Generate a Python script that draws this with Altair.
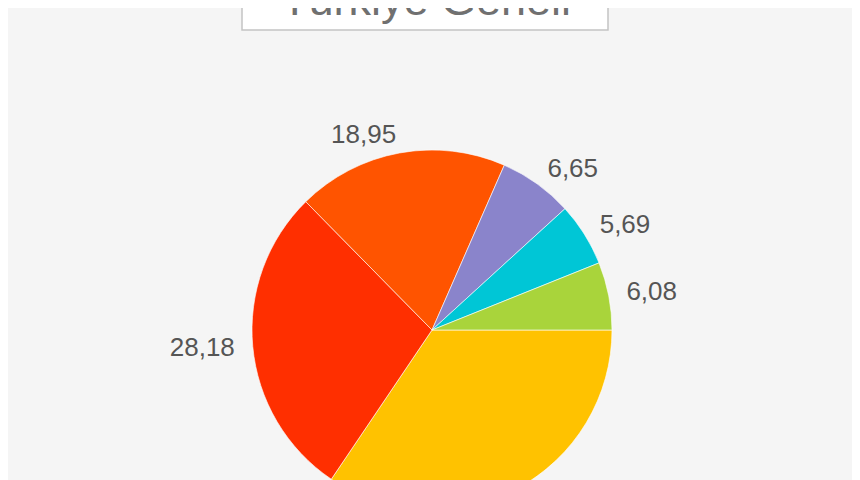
import math
import altair as alt
import pandas as pd

# --- data ---
categories = ["Dilim 1", "Dilim 2", "Dilim 3", "Dilim 4", "Dilim 5", "Dilim 6"]
values = [34.45, 28.18, 18.95, 6.65, 5.69, 6.08]
colors = ["#FFC200", "#FF2F00", "#FF5400", "#8A84CB", "#00C6D6", "#A9D43B"]
title_text = "Türkiye Geneli"

df = pd.DataFrame({
    "category": categories,
    "value": values,
    "order": list(range(len(categories))),
    "label": [f"{v:.2f}".replace(".", ",") for v in values],
})

CX, CY = 424, 322  # pie centre inside the svg
total = float(sum(values))
theta_scale = alt.Scale(domain=[0, total], range=[math.pi / 2, math.pi / 2 + 2 * math.pi])

base = (
    alt.Chart(df)
    .transform_joinaggregate(total="sum(value)")
    .transform_window(cum="sum(value)", sort=[alt.SortField("order")], frame=[None, 0])
    .transform_calculate(start="datum.cum - datum.value", mid="datum.cum - datum.value / 2",
                         frac="(datum.cum - datum.value / 2) / datum.total")
)

arcs = base.mark_arc(radius=180, stroke="#ffffff", strokeWidth=0.6).encode(
    theta=alt.Theta("start:Q", scale=theta_scale),
    theta2="cum:Q",
    color=alt.Color("category:N", scale=alt.Scale(domain=categories, range=colors), legend=None),
    x=alt.value(CX),
    y=alt.value(CY),
)

label_style = dict(radius=198, fontSize=26, font="Liberation Sans, Arial, sans-serif",
                   color="#555555", baseline="middle")

labels_left = base.transform_filter("datum.frac > 0.25 && datum.frac < 0.75").mark_text(
    align="right", **label_style
).encode(theta=alt.Theta("mid:Q", scale=theta_scale), text="label:N", x=alt.value(CX), y=alt.value(CY))

labels_right = base.transform_filter("!(datum.frac > 0.25 && datum.frac < 0.75)").mark_text(
    align="left", **label_style
).encode(theta=alt.Theta("mid:Q", scale=theta_scale), text="label:N", x=alt.value(CX), y=alt.value(CY))

tdf = pd.DataFrame({"t": [title_text]})
title_box = alt.Chart(tdf).mark_rect(fill="#ffffff", stroke="#c4c4c4", strokeWidth=1.5).encode(
    x=alt.value(234), x2=alt.value(600), y=alt.value(-40), y2=alt.value(22)
)
title = alt.Chart(tdf).mark_text(
    fontSize=45, font="Liberation Sans, Arial, sans-serif", color="#707070",
    align="center", baseline="alphabetic"
).encode(text="t:N", x=alt.value(418), y=alt.value(7))

chart = (
    alt.layer(arcs, labels_left, labels_right, title_box, title)
    .properties(width=844, height=472, background="#f5f5f5", padding=0,
                autosize=alt.AutoSizeParams(type="none"))
    .configure_view(stroke=None)
)

chart.save("out.html", embed_options={"renderer": "svg", "actions": False})
